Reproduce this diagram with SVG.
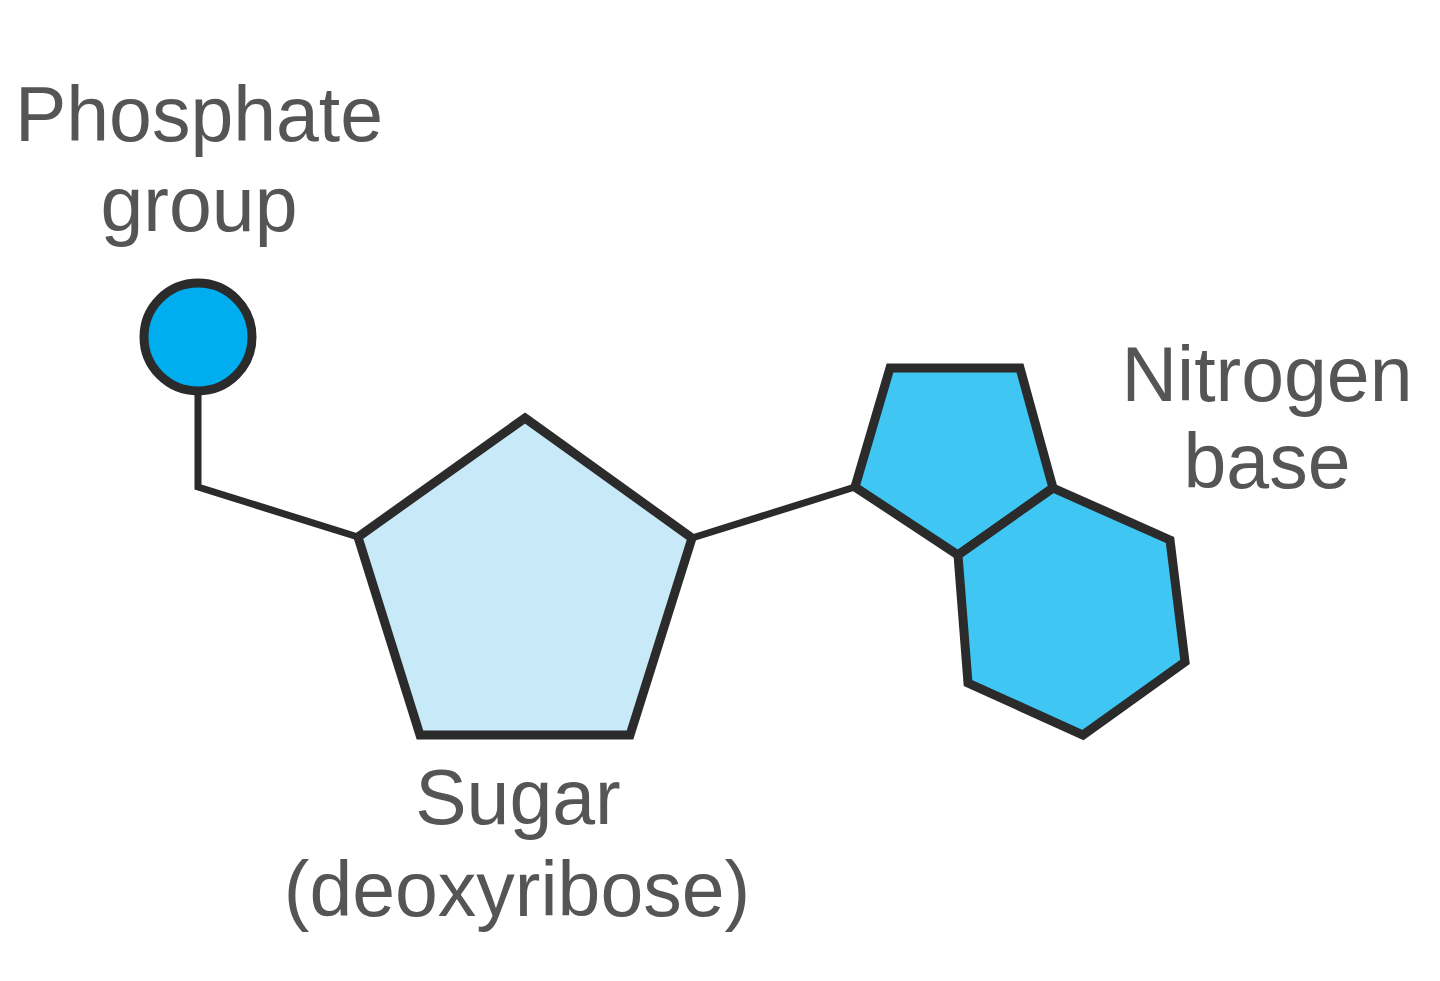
<svg xmlns="http://www.w3.org/2000/svg" width="1440" height="981" viewBox="0 0 1440 981">
<style>
.lbl{font-family:"Liberation Sans",Arial,sans-serif;font-size:77px;fill:#555555;text-anchor:middle}
.shape{stroke:#2b2b2b;stroke-width:9;stroke-linejoin:miter}
.conn{fill:none;stroke:#2b2b2b;stroke-width:7}
</style>
<rect width="1440" height="981" fill="#ffffff"/>
<g id="connectors">
<polyline class="conn" points="198,390 198,487 358,537"/>
<line class="conn" x1="692" y1="538" x2="855" y2="487"/>
</g>
<g id="phosphate">
<circle class="shape" cx="198" cy="337" r="54" fill="#00AEEF"/>
<text class="lbl" x="199" y="141">Phosphate</text>
<text class="lbl" x="199" y="231">group</text>
</g>
<g id="sugar">
<polygon class="shape" points="525,418 692,538 630,735 420,735 358,537" fill="#C8E9F8"/>
<text class="lbl" x="518" y="824">Sugar</text>
<text class="lbl" x="517" y="916">(deoxyribose)</text>
</g>
<g id="base">
<polygon class="shape" points="855,487 890,368 1020,368 1053,488 958,555" fill="#40C6F2"/>
<polygon class="shape" points="1053,488 1170,540 1185,662 1083,735 968,683 958,555" fill="#40C6F2"/>
<text class="lbl" x="1267" y="401">Nitrogen</text>
<text class="lbl" x="1267" y="488">base</text>
</g>
</svg>
